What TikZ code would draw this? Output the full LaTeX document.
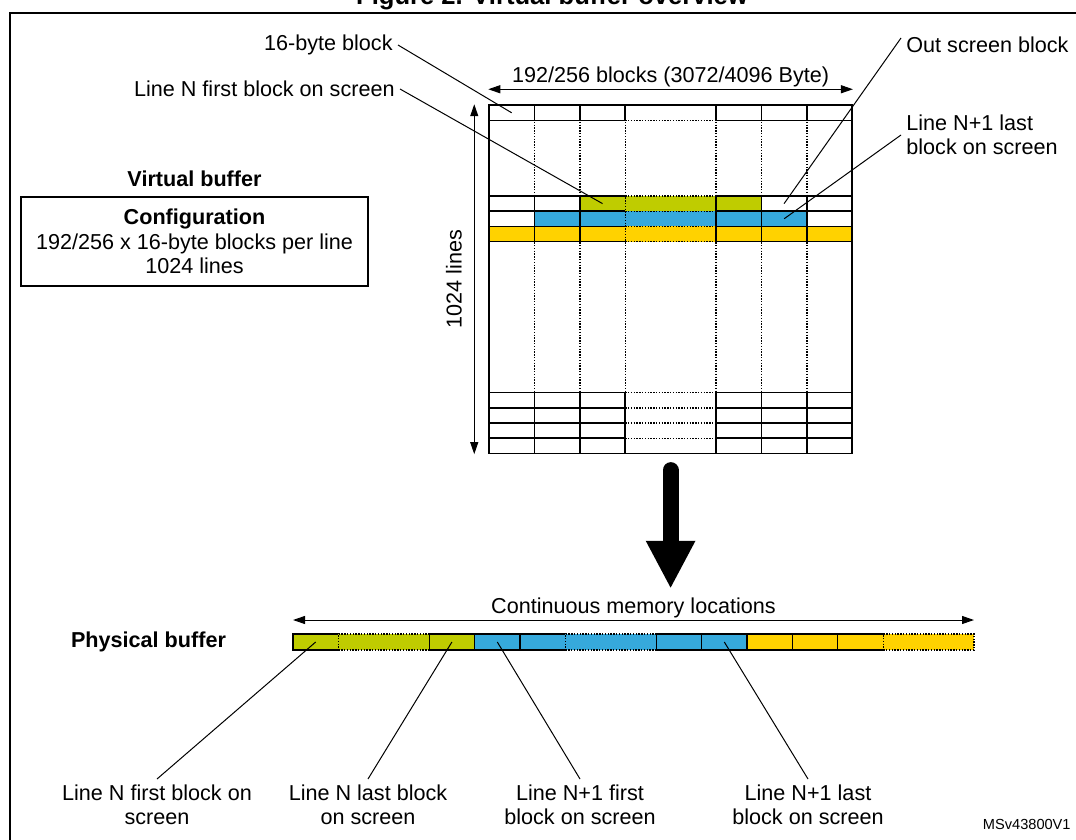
\documentclass[tikz,border=0pt]{standalone}
\usepackage{fontspec}
\setmainfont{Liberation Sans}
\usepackage{tikz}
\usetikzlibrary{arrows.meta, positioning, calc}
\definecolor{blockgreen}{HTML}{BFCC00}
\definecolor{blockblue}{HTML}{36A9DC}
\definecolor{blockyellow}{HTML}{FFD200}

\begin{document}
\begin{tikzpicture}[
  x=0.5pt, y=-0.5pt,
  font=\fontsize{10.8}{12.2}\selectfont,
  frameline/.style={line width=1pt},
  gridline/.style={line width=0.75pt},
  dotline/.style={line width=0.7pt, dash pattern=on 0.7pt off 0.7pt},
  cell/.style={draw, line width=0.6pt, minimum width=22.7pt, minimum height=8pt,
               inner sep=0pt, outer sep=0pt},
  wide/.style={minimum width=45.4pt, dash pattern=on 0.7pt off 0.7pt},
  dimarrow/.style={{Triangle[length=6pt,width=4pt]}-{Triangle[length=6pt,width=4pt]}, line width=0.5pt},
  dimlabel/.style={inner sep=1pt},
  callout/.style={line width=0.5pt},
  calltext/.style={inner sep=2.5pt, align=left},
  bigarrow/.style={line width=8pt, line cap=round, -{Triangle[length=24pt,width=23pt]}},
  heading/.style={font=\fontsize{10.8}{12.2}\selectfont\bfseries}
]
  \useasboundingbox (0,0) rectangle (1076,840);

  \node[font=\fontsize{12.8}{15}\selectfont\bfseries, anchor=base] (title) at (552,5) {Figure 2. Virtual buffer overview};
  \draw[frameline] (10,840) -- (10,13.5) -- (1076,13.5);

  % virtual buffer grid
  \fill[blockgreen] (579.8,196) rectangle (761.4,211.2);
  \fill[blockblue] (534.4,211.2) rectangle (806.8,226.4);
  \fill[blockyellow] (489,226.4) rectangle (852.2,241.6);
  \foreach \x in {534.4,579.8,625.2,716,761.4,806.8} {
    \draw[dotline] (\x,105) -- (\x,453.4);
    \draw[gridline] (\x,105) -- (\x,120.5);
    \draw[gridline] (\x,392.6) -- (\x,453.4);
  }
  \foreach \x in {534.4,579.8,716,761.4,806.8}
    \draw[gridline] (\x,196) -- (\x,241.6);
  \foreach \y in {120.5,196,211.2,226.4,241.6,392.6,407.8,423,438.2} {
    \draw[gridline] (489,\y) -- (625.2,\y);
    \draw[gridline] (716,\y) -- (852.2,\y);
    \draw[dotline] (625.2,\y) -- (716,\y);
  }
  \node[draw, gridline, minimum width=181.6pt, minimum height=174.2pt, inner sep=0pt] (vbuf) at (670.6,279.2) {};

  \coordinate (c16) at (511.7,112.8);
  \coordinate (cfirst) at (602.5,203.6);
  \coordinate (cout) at (784.1,203.6);
  \coordinate (clast) at (784.1,218.8);

  \draw[dimarrow] ([yshift=7.5pt]vbuf.north west) -- ([yshift=7.5pt]vbuf.north east)
    node[dimlabel, midway, above] (wlabel) {192/256 blocks (3072/4096 Byte)};
  \draw[dimarrow] ([xshift=-7pt]vbuf.south west) -- ([xshift=-7pt]vbuf.north west)
    node[midway, sloped, above, inner sep=6pt] (hlabel) {1024 lines};

  \node[calltext, anchor=east] (n16) at (398,45) {16-byte block};
  \node[calltext, anchor=east] (nfirst) at (400,89) {Line N first block on screen};
  \node[calltext, anchor=west] (nout) at (901,45) {Out screen block};
  \node[calltext, anchor=west] (nlast) at (901,135) {Line N+1 last\\block on screen};
  \draw[callout] (n16.east) -- (c16);
  \draw[callout] (nfirst.east) -- (cfirst);
  \draw[callout] ([yshift=3.5pt]nout.west) -- (cout);
  \draw[callout] (nlast.west) -- (clast);

  \node[draw, line width=0.75pt, minimum width=173.5pt, minimum height=44.5pt, align=center] (cfg) at (194.5,241.5)
    {{\bfseries Configuration}\\192/256 x 16-byte blocks per line\\1024 lines};
  \node[heading, above=1pt of cfg] (vtitle) {Virtual buffer};

  \draw[bigarrow] ([yshift=-8pt]vbuf.south) -- ([yshift=-67.3pt]vbuf.south);

  % physical buffer
  \node[cell, fill=blockgreen, anchor=west] (p1) at (293,642) {};
  \node[cell, wide, fill=blockgreen, right=0pt of p1] (p2) {};
  \node[cell, fill=blockgreen, right=0pt of p2] (p3) {};
  \node[cell, fill=blockblue, right=0pt of p3] (p4) {};
  \node[cell, fill=blockblue, right=0pt of p4] (p5) {};
  \node[cell, wide, fill=blockblue, right=0pt of p5] (p6) {};
  \node[cell, fill=blockblue, right=0pt of p6] (p7) {};
  \node[cell, fill=blockblue, right=0pt of p7] (p8) {};
  \node[cell, fill=blockyellow, right=0pt of p8] (p9) {};
  \node[cell, fill=blockyellow, right=0pt of p9] (p10) {};
  \node[cell, fill=blockyellow, right=0pt of p10] (p11) {};
  \node[cell, wide, fill=blockyellow, right=0pt of p11] (p12) {};
  \node[heading, left=30pt of p1] (ptitle) {Physical buffer};

  \draw[dimarrow] ([yshift=7pt]p1.north west) -- ([yshift=7pt]p12.north east)
    node[dimlabel, midway, above] (mlabel) {Continuous memory locations};

  \node[calltext, align=center, anchor=north] (b1) at (157,779) {Line N first block on\\screen};
  \node[calltext, align=center, anchor=north] (b2) at (368,779) {Line N last block\\on screen};
  \node[calltext, align=center, anchor=north] (b3) at (580,779) {Line N+1 first\\block on screen};
  \node[calltext, align=center, anchor=north] (b4) at (808,779) {Line N+1 last\\block on screen};
  \draw[callout] (b1.north) -- (p1.center);
  \draw[callout] (b2.north) -- (p3.center);
  \draw[callout] (b3.north) -- (p4.center);
  \draw[callout] (b4.north) -- (p8.center);

  \node[font=\fontsize{7.3}{9}\selectfont, anchor=base east, inner sep=0pt] (msv) at (1071,829) {MSv43800V1};
\end{tikzpicture}
\end{document}
